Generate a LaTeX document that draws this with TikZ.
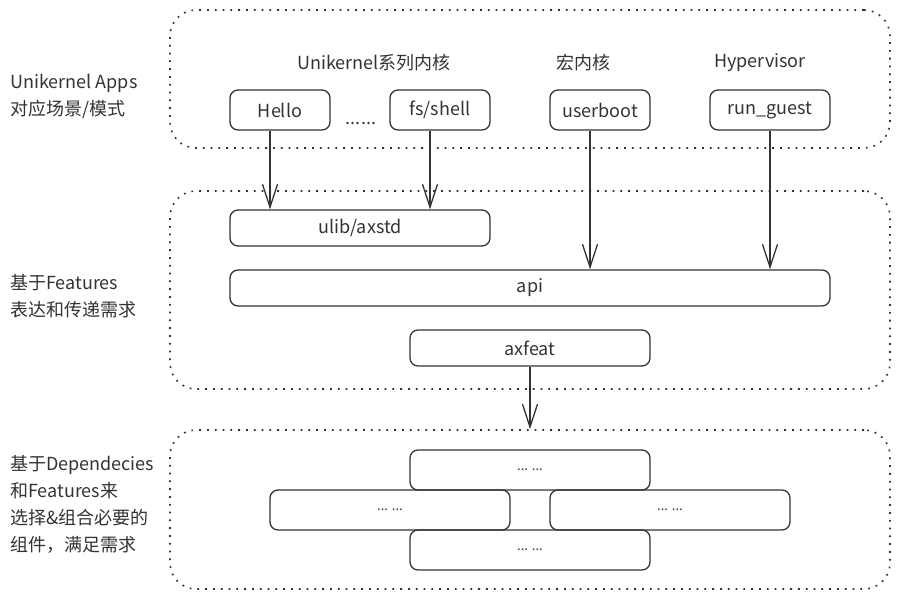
\documentclass[tikz,border=0pt]{standalone}
\usepackage{fontspec}
\setmainfont{Noto Sans CJK SC}
\usetikzlibrary{arrows.meta,positioning}
\definecolor{ink}{HTML}{333333}

\begin{document}
\begin{tikzpicture}[x=1pt, y=-1pt, font=\fontsize{18}{27}\selectfont, color=ink,
	group/.style={draw=ink, line width=1.6pt, dash pattern=on 1.8pt off 6pt, rounded corners=26pt, minimum width=720pt, inner sep=0pt},
	comp/.style={draw=ink, line width=1.3pt, rounded corners=8pt, inner sep=0pt, minimum height=36pt},
	dotsbox/.style={comp, minimum width=240pt, minimum height=40pt, font=\fontsize{13}{15}\selectfont},
	side/.style={anchor=west, align=left, inner sep=0pt},
	arr/.style={draw=ink, line width=1.3pt, -{Straight Barb[length=23pt,width=15pt]}}]
			\useasboundingbox (0,0) rectangle (900,600);

			% three dotted groups
			\node[group, minimum height=138pt] (apps) at (530,79) {};
			\node[group, minimum height=198pt] (feat) at (530,290) {};
			\node[group, minimum height=159pt] (deps) at (530,509.5) {};

			\node[side] (lapps) at (10,96) {Unikernel Apps\\对应场景/模式};
			\node[side] (lfeat) at (10,296) {基于Features\\表达和传递需求};
			\node[side] (ldeps) at (10,504) {基于Dependecies\\和Features来\\选择\&组合必要的\\组件，满足需求};

			% apps
			\node[comp, minimum width=100pt, minimum height=40pt] (hello) at (280,110) {Hello};
			\node[comp, minimum width=100pt, minimum height=40pt] (fsshell) at (440,110) {fs/shell};
			\node[comp, minimum width=100pt, minimum height=40pt] (userboot) at (600,110) {userboot};
			\node[comp, minimum width=120pt, minimum height=40pt] (runguest) at (770,110) {run\_guest};
			\node[anchor=base, inner sep=0pt] (more) at (361,124) {......};

			\node[above=27pt of hello.north, anchor=center, xshift=94pt] {Unikernel系列内核};
			\node[above=27pt of userboot.north, anchor=center, xshift=-17pt] {宏内核};
			\node[above=27pt of runguest.north, anchor=center, xshift=-10pt] {Hypervisor};

			% features
			\node[comp, minimum width=260pt] (ulib) at (360,228) {ulib/axstd};
			\node[comp, minimum width=600pt] (api) at (530,288) {api};
			\node[comp, minimum width=240pt] (axfeat) at (530,348) {axfeat};

			% dependencies
			\node[dotsbox] (dtop) at (530,470) {... ...};
			\node[dotsbox] (dleft) at (390,510) {... ...};
			\node[dotsbox] (dright) at (670,510) {... ...};
			\node[dotsbox] (dbot) at (530,550) {... ...};

			\draw[arr] ([xshift=-10pt]hello.south) -- ([xshift=-10pt]hello.south |- ulib.north);
			\draw[arr] ([xshift=-10pt]fsshell.south) -- ([xshift=-10pt]fsshell.south |- ulib.north);
			\draw[arr] ([xshift=-10pt]userboot.south) -- ([xshift=-10pt]userboot.south |- api.north);
			\draw[arr] (runguest.south) -- (runguest.south |- api.north);
			\draw[arr] (axfeat.south) -- (axfeat.south |- deps.north);
		\end{tikzpicture}
\end{document}
